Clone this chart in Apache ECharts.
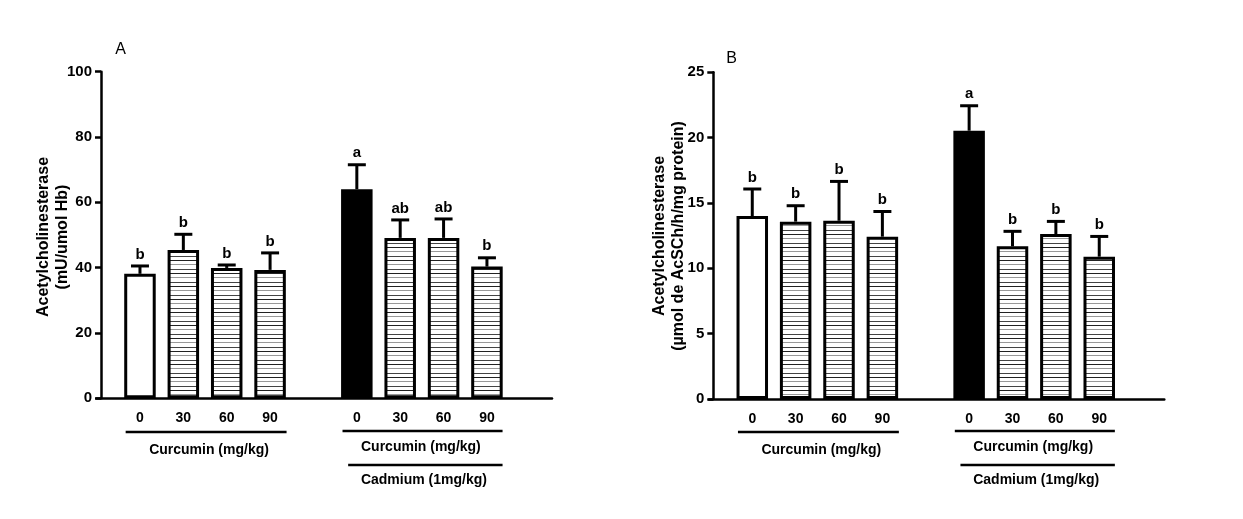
<!DOCTYPE html>
<html><head><meta charset="utf-8">
<script src="https://cdn.jsdelivr.net/npm/echarts@6/dist/echarts.min.js"></script>
<style>html,body{margin:0;padding:0;background:#fff}#c{width:1243px;height:519px}</style>
</head><body><div id="c"></div>
<script>
// ---------- data ----------
const doses = ['0', '30', '60', '90'];
const curcuminTitle = 'Curcumin (mg/kg)';
const cadmiumTitle = 'Cadmium (1mg/kg)';
const yTitle = 'Acetylcholinesterase';

// Panel A
const aUnit = '(mU/umol Hb)';
const aTicks = [0, 20, 40, 60, 80, 100];
const aControl = [38.1, 45.4, 39.9, 39.3];
const aControlErr = [2.4, 4.8, 0.9, 5.2];
const aControlLetters = ['b', 'b', 'b', 'b'];
const aCadmium = [64.0, 49.1, 49.1, 40.3];
const aCadmiumErr = [7.5, 5.5, 5.8, 2.7];
const aCadmiumLetters = ['a', 'ab', 'ab', 'b'];

// Panel B
const bUnit = '(µmol de AcSCh/h/mg protein)';
const bTicks = [0, 5, 10, 15, 20, 25];
const bControl = [14.0, 13.57, 13.64, 12.42];
const bControlErr = [2.07, 1.22, 3.01, 1.93];
const bControlLetters = ['b', 'b', 'b', 'b'];
const bCadmium = [20.53, 11.68, 12.62, 10.89];
const bCadmiumErr = [1.91, 1.15, 0.97, 1.55];
const bCadmiumLetters = ['a', 'b', 'b', 'b'];

// ---------- helpers ----------
const FONT = "'Liberation Sans', Arial, Helvetica, sans-serif";
const n = doses.length;
const pos1 = doses.map((d, i) => i + 1);          // control group slots
const pos2 = doses.map((d, i) => n + 2 + i);      // cadmium group slots (one empty slot between)
const xMax = n * 2 + 2.5;

function hatchCanvas() {
  const c = document.createElement('canvas');
  c.width = 8; c.height = 13;
  const g = c.getContext('2d');
  g.fillStyle = '#fff'; g.fillRect(0, 0, 8, 13);
  g.fillStyle = '#222'; g.fillRect(0, 0, 8, 1);
  g.fillStyle = '#999'; g.fillRect(0, 4, 8, 1);
  g.fillStyle = '#444'; g.fillRect(0, 9, 8, 1);
  return c;
}
const hatch = { image: hatchCanvas(), repeat: 'repeat' };

function barData(ctrl, cad) {
  const out = [];
  ctrl.forEach((v, i) => out.push({ value: [pos1[i], v], itemStyle: { color: i === 0 ? '#fff' : hatch } }));
  cad.forEach((v, i) => out.push({ value: [pos2[i], v], itemStyle: { color: i === 0 ? '#000' : hatch } }));
  return out;
}
function errData(ctrl, ctrlE, cad, cadE) {
  const out = [];
  ctrl.forEach((v, i) => out.push([pos1[i], v, ctrlE[i]]));
  cad.forEach((v, i) => out.push([pos2[i], v, cadE[i]]));
  return out;
}
function errSeries(idx, data, letters) {
  return {
    type: 'custom', xAxisIndex: idx, yAxisIndex: idx, z: 5,
    data: data,
    renderItem: function (params, api) {
      const x = api.value(0), v = api.value(1), e = api.value(2);
      const p0 = api.coord([x, v]);
      const p1 = api.coord([x, v + e]);
      const capHalf = 9;
      return {
        type: 'group',
        children: [
          { type: 'line', shape: { x1: p0[0], y1: p0[1], x2: p1[0], y2: p1[1] }, style: { stroke: '#000', lineWidth: 3 } },
          { type: 'line', shape: { x1: p1[0] - capHalf, y1: p1[1], x2: p1[0] + capHalf, y2: p1[1] }, style: { stroke: '#000', lineWidth: 3 } },
          { type: 'text', x: p1[0], y: p1[1] - 4, style: { text: letters[params.dataIndex], fill: '#000', fontSize: 15, fontWeight: 'bold', fontFamily: FONT, align: 'center', verticalAlign: 'bottom' } }
        ]
      };
    }
  };
}
function xLabel(v) {
  const i1 = pos1.indexOf(v), i2 = pos2.indexOf(v);
  if (i1 >= 0) return doses[i1];
  if (i2 >= 0) return doses[i2];
  return '';
}
function makeX(idx) {
  return {
    type: 'value', gridIndex: idx, min: 0, max: xMax, interval: 1,
    axisLine: { show: true, onZero: false, lineStyle: { color: '#000', width: 2.5 } },
    axisTick: { show: false }, splitLine: { show: false },
    axisLabel: { formatter: xLabel, margin: 13, color: '#000', fontSize: 14, fontWeight: 'bold', fontFamily: FONT, showMaxLabel: false, showMinLabel: false }
  };
}
function makeY(idx, ticks) {
  return {
    type: 'value', gridIndex: idx, min: ticks[0], max: ticks[ticks.length - 1], interval: ticks[1] - ticks[0],
    offset: -4.4,
    axisLine: { show: true, onZero: false, lineStyle: { color: '#000', width: 2.5 } },
    axisTick: { show: true, length: 6, lineStyle: { color: '#000', width: 2.5 } },
    splitLine: { show: false },
    axisLabel: { margin: 9, color: '#000', fontSize: 15, fontWeight: 'bold', fontFamily: FONT }
  };
}

const chart = echarts.init(document.getElementById('c'), null, { renderer: 'canvas' });
const option = {
  animation: false,
  backgroundColor: '#fff',
  grid: [
    { left: 96.6, top: 71.7, width: 455.4, height: 326.5 },
    { left: 708.9, top: 72.3, width: 455.4, height: 326.7 }
  ],
  xAxis: [makeX(0), makeX(1)],
  yAxis: [makeY(0, aTicks), makeY(1, bTicks)],
  series: [
    { type: 'bar', xAxisIndex: 0, yAxisIndex: 0, barWidth: 31.5, data: barData(aControl, aCadmium),
      itemStyle: { borderColor: '#000', borderWidth: 3 } },
    { type: 'bar', xAxisIndex: 1, yAxisIndex: 1, barWidth: 31.5, data: barData(bControl, bCadmium),
      itemStyle: { borderColor: '#000', borderWidth: 3 } },
    errSeries(0, errData(aControl, aControlErr, aCadmium, aCadmiumErr), aControlLetters.concat(aCadmiumLetters)),
    errSeries(1, errData(bControl, bControlErr, bCadmium, bCadmiumErr), bControlLetters.concat(bCadmiumLetters))
  ]
};
chart.setOption(option);

// ---------- annotations (group brackets, titles) ----------
function px(axis, v) { return chart.convertToPixel({ xAxisIndex: axis }, v); }
function txt(x, y, s, opt, rot) {
  const el = { type: 'text', x: x, y: y, silent: true,
    style: Object.assign({ text: s, fill: '#000', fontSize: 14, fontWeight: 'bold', fontFamily: FONT, align: 'center', verticalAlign: 'middle' }, opt || {}) };
  if (rot) el.rotation = rot;
  return el;
}
function rule(x1, x2, y) {
  return { type: 'line', silent: true, shape: { x1: x1, y1: y, x2: x2, y2: y }, style: { stroke: '#000', lineWidth: 2.5 } };
}
const graphics = [];
[0, 1].forEach(function (ax) {
  const g1a = px(ax, pos1[0] - 0.33), g1b = px(ax, pos1[n - 1] + 0.38);
  const g2a = px(ax, pos2[0] - 0.33), g2b = px(ax, pos2[n - 1] + 0.36);
  const c1 = (px(ax, pos1[0]) + px(ax, pos1[n - 1])) / 2;
  const c2 = (px(ax, pos2[0]) + px(ax, pos2[n - 1])) / 2;
  graphics.push(rule(g1a, g1b, 432));
  graphics.push(txt(c1 + 4, 450, curcuminTitle));
  graphics.push(rule(g2a, g2b, 431));
  graphics.push(txt(c2 - 1, 447, curcuminTitle));
  graphics.push(rule(px(ax, pos2[0] - 0.2), g2b, 465));
  graphics.push(txt(c2 + 2, 480, cadmiumTitle));
});
// y titles (rotated, reading bottom-to-top)
const R = Math.PI / 2;
graphics.push(txt(44, 237, yTitle, { fontSize: 16 }, R));
graphics.push(txt(63, 237, aUnit, { fontSize: 16 }, R));
graphics.push(txt(660, 236, yTitle, { fontSize: 16 }, R));
graphics.push(txt(679, 236, bUnit, { fontSize: 16 }, R));
// panel letters
graphics.push(txt(120.5, 50, 'A', { fontSize: 16, fontWeight: 'normal' }));
graphics.push(txt(731.5, 59, 'B', { fontSize: 16, fontWeight: 'normal' }));
chart.setOption({ graphic: graphics });
</script>
</body></html>
